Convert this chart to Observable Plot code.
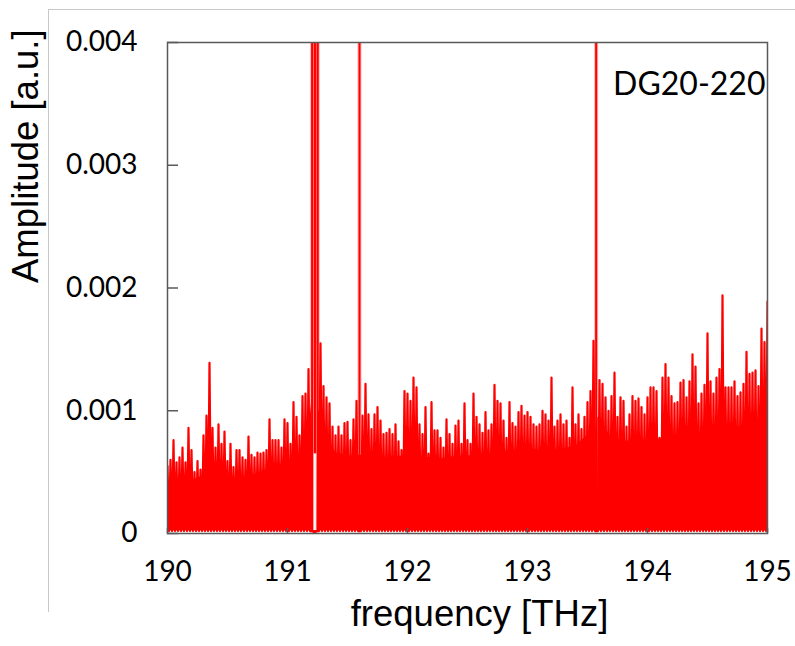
<!DOCTYPE html>
<html><head><meta charset="utf-8">
<script src="https://cdn.jsdelivr.net/npm/d3@7"></script>
<script src="https://cdn.jsdelivr.net/npm/@observablehq/plot@0.6"></script>
<style>
html,body{margin:0;padding:0;background:#fff;}
#wrap{position:relative;width:795px;height:646px;overflow:hidden;font-family:Lato,sans-serif;}
#edge{position:absolute;left:48px;top:9px;width:760px;height:602px;border-left:1px solid #c8c8c8;border-top:1px solid #c8c8c8;pointer-events:none;}
</style></head><body><div id="wrap"><div id="edge"></div></div>
<script>
// ---- data ----
const xTicks = [190, 191, 192, 193, 194, 195];
const yTicks = [0, 0.001, 0.002, 0.003, 0.004];
const xLabel = "frequency [THz]";
const yLabel = "Amplitude [a.u.]";
const sampleLabel = "DG20-220";

// noise spike tops, sampled every 0.025 THz from 190 to 195 (0 = no spike drawn)
const spikeStart = 190, spikeStep = 0.025;
const spikeAmp = [
0.00055,0.00060,0.00076,0.00058,0.00062,0.00070,0.00058,0.00086,0.00068,0.00050,
0.00059,0.00052,0.00080,0.00096,0.00139,0.00086,0.00070,0.00089,0.00073,0.00083,
0.00059,0.00073,0.00054,0.00068,0.00068,0.00062,0.00060,0.00079,0.00064,0.00062,
0.00066,0.00065,0.00066,0.00068,0.00093,0.00076,0.00076,0.00076,0.00070,0.00093,
0.00090,0.00073,0.00107,0.00095,0.00080,0.00112,0.00114,0.00134,0,0,
0,0.00155,0.00120,0.00111,0.00106,0.00087,0.00080,0.00087,0.00080,0.00090,
0.00091,0.00076,0.00093,0.00108,0,0.00096,0.00122,0.00097,0.00085,0.00097,
0.00103,0.00092,0.00081,0.00082,0.00085,0.00081,0.00089,0.00075,0.00068,0.00116,
0.00114,0.00108,0.00127,0.00119,0.00089,0.00081,0.00103,0.00065,0.00107,0.00084,
0.00084,0.00078,0.00070,0.00093,0.00081,0.00073,0.00088,0.00092,0.00073,0.00106,
0.00076,0.00073,0.00114,0.00095,0.00089,0.00082,0.00099,0.00084,0.00089,0.00121,
0.00108,0.00106,0.00092,0.00078,0.00107,0.00090,0.00087,0.00099,0.00104,0.00096,
0.00099,0.00095,0.00089,0.00087,0.00089,0.00100,0.00097,0.00092,0.00127,0.00087,
0.00092,0.00097,0.00089,0.00092,0.00078,0.00119,0.00089,0.00097,0.00085,0.00095,
0.00107,0.00116,0.00157,0,0.00125,0.00122,0.00111,0.00100,0.00112,0.00131,
0.00095,0.00111,0.00108,0.00087,0.00097,0.00112,0.00108,0.00110,0.00103,0.00097,
0.00111,0.00119,0.00119,0.00116,0.00078,0.00127,0.00138,0.00127,0.00112,0.00106,
0.00107,0.00123,0.00125,0.00111,0.00124,0.00146,0.00136,0.00106,0.00114,0.00121,
0.00163,0.00124,0.00114,0.00127,0.00134,0.00194,0.00119,0.00119,0.00119,0.00124,
0.00112,0.00115,0.00122,0.00148,0.00130,0.00131,0.00133,0.00120,0.00167,0.00156,
0.00189
];

// dense (solid) part of the noise: upper level
const bodyFreq = [190.0,190.1,190.2,190.3,190.4,190.5,190.6,190.7,190.8,190.9,
  191.0,191.1,191.15,191.19,191.203,191.209,191.213,191.247,191.252,191.27,
  191.3,191.35,191.4,191.5,191.6,191.7,191.8,191.9,192.0,192.1,
  192.2,192.3,192.4,192.5,192.6,192.7,192.8,192.9,193.0,193.1,
  193.2,193.3,193.4,193.5,193.56,193.575,193.578,193.583,193.586,193.62,
  193.7,193.8,193.9,194.0,194.1,194.2,194.3,194.4,194.5,194.6,
  194.7,194.8,194.9,195.0];
const bodyAmp = [0.00040,0.00043,0.00043,0.00047,0.00048,0.00045,0.00045,0.00047,0.00051,0.00055,
  0.00058,0.00066,0.00078,0.00095,0.00110,0.00070,0.00000,0.00000,0.00100,0.00100,
  0.00088,0.00074,0.00066,0.00063,0.00064,0.00063,0.00062,0.00063,0.00063,0.00062,
  0.00062,0.00061,0.00063,0.00063,0.00065,0.00065,0.00067,0.00068,0.00069,0.00068,
  0.00068,0.00069,0.00071,0.00080,0.00095,0.00085,0.00008,0.00008,0.00095,0.00090,
  0.00078,0.00075,0.00076,0.00076,0.00077,0.00079,0.00081,0.00082,0.00084,0.00084,
  0.00086,0.00087,0.00089,0.00092];
const floorAmp = 0.00002;

// strong narrow peaks (run off the top of the axis)
const peakFreq = [191.205, 191.229, 191.252, 191.6, 193.572];
const peakLow  = [0.00002, 0.00065, 0.00002, 0.00002, 0.00002];
const peakHigh = [0.0045, 0.0045, 0.0045, 0.0045, 0.0045];

// ---- build tables ----
// noise trace: each read spike top followed by a return to the floor
const trace = [];
spikeAmp.forEach((a, i) => {
  const f = spikeStart + i * spikeStep;
  trace.push({f, a: a > 0 ? a : floorAmp});
  if (i < spikeAmp.length - 1) trace.push({f: f + spikeStep / 2, a: floorAmp});
});
const body = bodyFreq.map((f, i) => ({f, a: bodyAmp[i]}));
const peaks = peakFreq.map((f, i) => ({f, lo: peakLow[i], hi: peakHigh[i]}));

const RED = "#ff0000", AX = "#595959";
const chart = Plot.plot({
  width: 795, height: 646,
  marginLeft: 167, marginRight: 28, marginTop: 42, marginBottom: 113,
  x: {domain: [190, 195]},
  y: {domain: [0, 0.004]},
  style: {fontFamily: "Lato, sans-serif", background: "transparent", color: "#000"},
  marks: [
    Plot.line(trace, {x: "f", y: "a", stroke: RED, strokeWidth: 2.2, curve: "linear", clip: true}),
    Plot.areaY(body, {x: "f", y1: floorAmp, y2: "a", fill: RED, curve: "linear", clip: true}),
    Plot.ruleX(peaks, {x: "f", y1: "lo", y2: "hi", stroke: RED, strokeWidth: 4, strokeOpacity: 0.3, clip: true}),
    Plot.ruleX(peaks, {x: "f", y1: "lo", y2: "hi", stroke: RED, strokeWidth: 2, clip: true}),
    Plot.axisY(yTicks, {tickSize: 0, tickPadding: 30, fontSize: 28, label: null,
      tickFormat: d => d === 0 ? "0" : d3.format(".3f")(d)}),
    Plot.axisY(yTicks, {tickSize: -11, text: null, label: null, stroke: AX, strokeWidth: 1.5}),
    Plot.axisX(xTicks, {tickSize: 0, tickPadding: 28, fontSize: 28, label: null, tickFormat: d => String(d)}),
    Plot.axisX(xTicks, {tickSize: -5, text: null, label: null, stroke: AX, strokeWidth: 1.5}),
    Plot.frame({stroke: AX, strokeWidth: 1.5}),
    Plot.text([xLabel], {text: d => d, frameAnchor: "bottom", dx: 12, dy: 92, fontSize: 36.5, fontFamily: "Liberation Sans, Arial, sans-serif", fill: "#000"}),
    Plot.text([yLabel], {text: d => d, frameAnchor: "left", rotate: -90, dx: -141, dy: -5, fontSize: 36.5, fontFamily: "Liberation Sans, Arial, sans-serif", fill: "#000"}),
    Plot.text([sampleLabel], {text: d => d, frameAnchor: "top-right", textAnchor: "end", dx: -2, dy: 30, fontSize: 32, fill: "#000"})
  ]
});
document.getElementById("wrap").prepend(chart);
</script>
</body></html>
